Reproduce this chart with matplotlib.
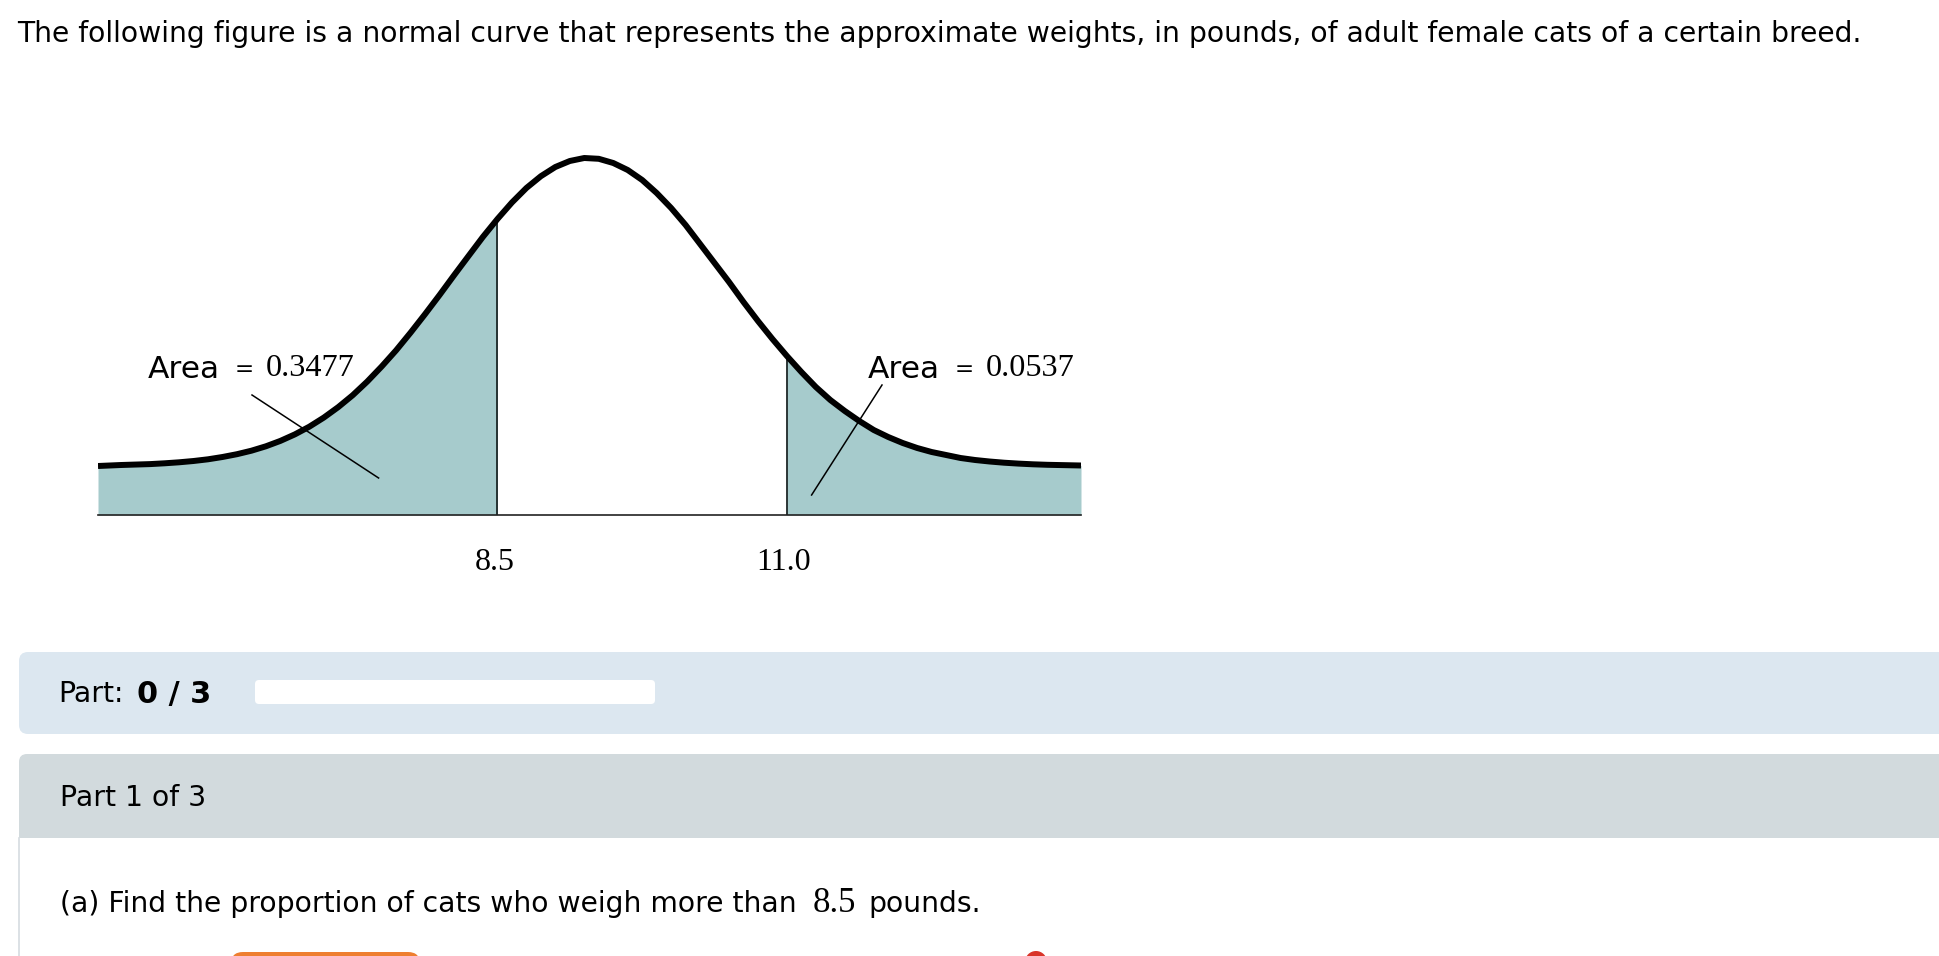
import matplotlib
matplotlib.use("Agg")
import matplotlib.pyplot as plt
from matplotlib.patches import FancyBboxPatch, Rectangle, Circle

# ---- data ----
weights = [5.05, 5.25, 5.5, 5.625, 5.75, 5.875, 6.0, 6.125, 6.25, 6.375, 6.5, 6.625, 6.75, 6.875,
           7.0, 7.125, 7.25, 7.375, 7.5, 7.625, 7.75, 7.875, 8.0, 8.125, 8.25, 8.375, 8.5,
           8.625, 8.75, 8.875, 9.0, 9.125, 9.25, 9.375, 9.5, 9.625, 9.75, 9.875, 10.0, 10.125,
           10.25, 10.375, 10.5, 10.625, 10.75, 10.875, 11.0, 11.125, 11.25, 11.375, 11.5, 11.625,
           11.75, 11.875, 12.0, 12.125, 12.25, 12.375, 12.5, 12.625, 12.75, 12.875, 13.0, 13.125,
           13.25, 13.54]
curve_height = [49, 50, 50.9, 51.7, 52.7, 54.0, 55.7, 58.0, 60.8, 64.3, 68.7, 74.1, 80.6, 88.3,
                97.4, 107.9, 119.8, 133.4, 148.5, 164.7, 182.4, 200.9, 220, 239.7, 259, 278.2, 296,
                312.5, 327, 338.8, 348, 354, 357, 356.2, 352, 345, 335, 322, 307, 290,
                271, 252, 233, 213, 194, 176, 159, 143, 128, 115, 104, 94,
                85, 78, 72, 67, 63, 60, 57, 55, 53.5, 52.3, 51.4, 50.7,
                50.2, 49.5]
cut_left = 8.5
cut_right = 11.0
tick_labels = ["8.5", "11.0"]
area_labels = ["0.3477", "0.0537"]

W, H = 1940, 956
SANS = "DejaVu Sans"
SERIF = "Liberation Serif"
FILL = "#A6CBCC"

fig = plt.figure(figsize=(W / 100, H / 100), dpi=100, facecolor="white")

# page layer, in pixels
page = fig.add_axes([0, 0, 1, 1], zorder=0)
page.set_xlim(0, W)
page.set_ylim(H, 0)
page.axis("off")

# chart layer
left, right, base, top = 98, 1081, 515, 140
ax = fig.add_axes([left / W, 1 - base / H, (right - left) / W, (base - top) / H], zorder=1)
ax.patch.set_alpha(0)
ax.set_xlim(weights[0], weights[-1])
ax.set_ylim(0, base - top)
ax.set_xticks([])
ax.set_yticks([])
for s in ("top", "left", "right"):
    ax.spines[s].set_visible(False)
ax.spines["bottom"].set_linewidth(1.2)
ax.spines["bottom"].set_color("#222222")

ax.fill_between(weights, 0, curve_height, where=[w <= cut_left for w in weights], color=FILL, lw=0)
ax.fill_between(weights, 0, curve_height, where=[w >= cut_right for w in weights], color=FILL, lw=0)
for cut in (cut_left, cut_right):
    ax.plot([cut, cut], [0, curve_height[weights.index(cut)]], color="#1c2626", lw=1.3)
ax.plot(weights, curve_height, color="black", lw=4.3, solid_capstyle="butt", solid_joinstyle="round")

# annotation layer, in pixels
over = fig.add_axes([0, 0, 1, 1], zorder=2)
over.patch.set_alpha(0)
over.set_xlim(0, W)
over.set_ylim(H, 0)
over.axis("off")
over.plot([252, 378.6], [395, 478], color="black", lw=1.1)
over.plot([882, 811.6], [385, 495], color="black", lw=1.1)

A = 22.5
over.text(148, 369, "Area", family=SANS, fontsize=A, va="center", ha="left")
over.text(235, 369, "=", family=SANS, fontsize=A - 6, va="center", ha="left")
over.text(266, 369, area_labels[0], family=SERIF, fontsize=A + 0.7, va="center", ha="left")
over.text(868, 369, "Area", family=SANS, fontsize=A, va="center", ha="left")
over.text(955, 369, "=", family=SANS, fontsize=A - 6, va="center", ha="left")
over.text(986, 369, area_labels[1], family=SERIF, fontsize=A + 0.7, va="center", ha="left")
over.text(495, 563, tick_labels[0], family=SERIF, fontsize=A + 0.5, va="center", ha="center")
over.text(784, 563, tick_labels[1], family=SERIF, fontsize=A + 0.5, va="center", ha="center")

# page furniture
page.add_patch(FancyBboxPatch((19, 652), W, 82, boxstyle="round,pad=0,rounding_size=9", lw=0, fc="#DCE7F0"))
page.add_patch(FancyBboxPatch((259, 684), 392, 16, boxstyle="round,pad=4,rounding_size=4", lw=0, fc="white"))
page.add_patch(FancyBboxPatch((19, 754), W, 60, boxstyle="round,pad=0,rounding_size=8", lw=0, fc="#D2DADD"))
page.add_patch(Rectangle((19, 770), W, 68, lw=0, fc="#D2DADD"))
page.plot([19.5, 19.5], [838, H], color="#D5DCE0", lw=1.2)
page.add_patch(FancyBboxPatch((231, 952), 189, 24, boxstyle="round,pad=0,rounding_size=12", lw=0, fc="#EE7F30"))
page.add_patch(Circle((1036, 962), 11, lw=0, fc="#D9352A"))

T = 20.3
page.text(17, 34, "The following figure is a normal curve that represents the approximate weights, in pounds, "
          "of adult female cats of a certain breed.", family=SANS, fontsize=T, va="center", ha="left")
page.text(58, 694, "Part:", family=SANS, fontsize=T, va="center", ha="left")
page.text(137, 694, "0 / 3", family=SANS, fontsize=T + 1.5, fontweight="bold", va="center", ha="left")
page.text(60.5, 798, "Part 1 of 3", family=SANS, fontsize=T, va="center", ha="left")
page.text(60, 904, "(a) Find the proportion of cats who weigh more than", family=SANS, fontsize=T, va="center", ha="left")
page.text(813, 904, "8.5", family=SERIF, fontsize=25, va="center", ha="left")
page.text(868, 904, "pounds.", family=SANS, fontsize=T, va="center", ha="left")

fig.savefig("out.png", dpi=100)
